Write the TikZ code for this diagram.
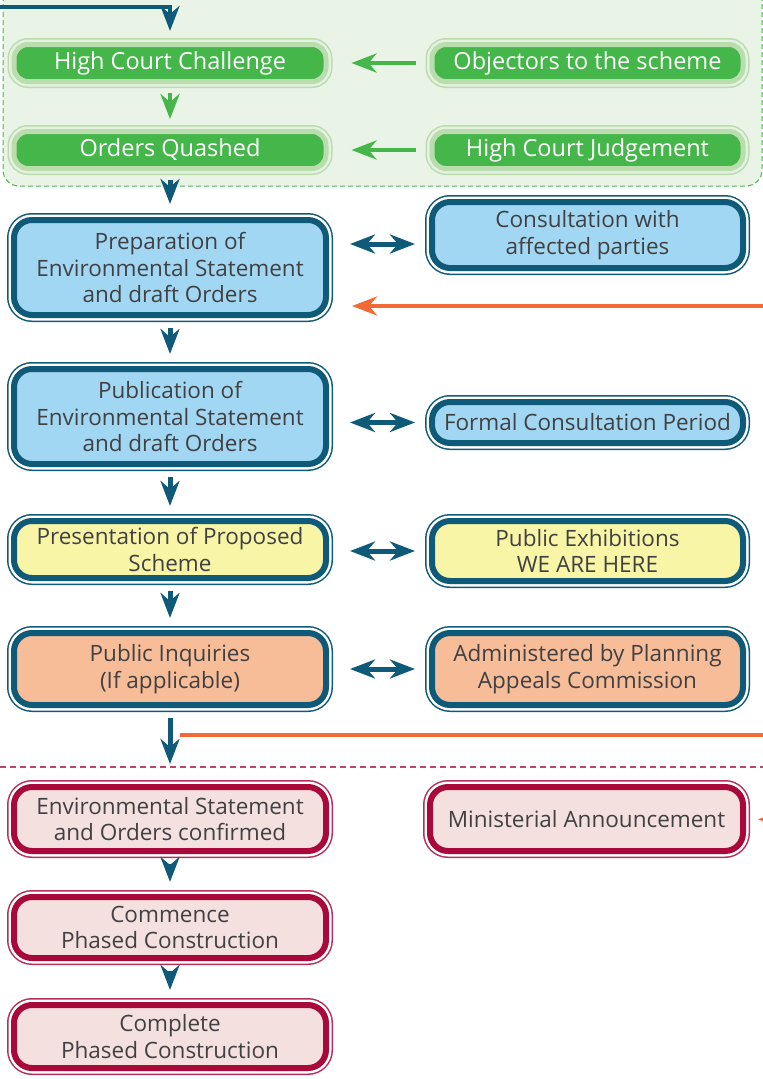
\documentclass[tikz,border=0pt]{standalone}
\usepackage{fontspec}
\setmainfont{Open Sans}
\usepackage{tikz}
\usetikzlibrary{arrows.meta,calc,positioning}
\definecolor{dblue}{HTML}{0E5A78}
\definecolor{bfill}{HTML}{A2D7F3}
\definecolor{yfill}{HTML}{F8F5A6}
\definecolor{ofill}{HTML}{F7BC98}
\definecolor{dred}{HTML}{A8093A}
\definecolor{rfill}{HTML}{F3E0DF}
\definecolor{gfill}{HTML}{45B649}
\definecolor{gband}{HTML}{BADDAE}
\definecolor{ggap}{HTML}{E4F1E0}
\definecolor{gbg}{HTML}{E9F3E6}
\definecolor{gdash}{HTML}{4DB751}
\definecolor{oline}{HTML}{F26A35}
\definecolor{rdash}{HTML}{C0436A}
\definecolor{txt}{HTML}{414042}
\newcommand{\boxfont}{\fontsize{22.5}{26.5}\selectfont}
\tikzstyle{box}=[rounded corners=18pt, align=center, inner sep=0pt, minimum width=312pt, font=\boxfont, text=txt, line width=6pt]
\tikzstyle{bluebox}=[box, fill=bfill, draw=dblue, preaction={draw=dblue, line width=14pt}, preaction={draw=white, line width=11pt}]
\tikzstyle{yelbox}=[bluebox, fill=yfill]
\tikzstyle{orbox}=[bluebox, fill=ofill]
\tikzstyle{redbox}=[box, fill=rfill, draw=dred, preaction={draw=dred!85, line width=14pt}, preaction={draw=white, line width=11pt}]
\tikzstyle{grbox}=[box, rounded corners=14pt, line width=5pt, minimum height=37pt, fill=gfill, draw=gband, text=white, font=\fontsize{23.5}{26.5}\selectfont, preaction={draw=gband, line width=13pt}, preaction={draw=ggap, line width=10pt}]
\tikzstyle{varr}=[draw=dblue, line width=5pt, ->, shorten <=10pt, shorten >=12pt]
\tikzstyle{dbl}=[draw=dblue, line width=5pt, <->, shorten <=21pt, shorten >=14pt]
\tikzstyle{garr}=[draw=gfill, line width=4.5pt, ->]
\tikzstyle{oarr}=[draw=oline, line width=4.5pt, ->]

\begin{document}
\begin{tikzpicture}[x=1pt,y=-1pt,>={Stealth[length=25pt,width=19pt,inset=8pt]}]
\useasboundingbox (0,0) rectangle (763,1079);

% court challenge area
\draw[fill=gbg, draw=gdash, dashed, line width=1pt, dash pattern=on 5pt off 3pt, rounded corners=16pt] (3,-20) -- (3,186) -- (762,186) -- (762,-20);

\node[grbox] (hcc) at (170,63) {High Court Challenge};
\node[grbox] (oq) at (170,150) {Orders Quashed};
\node[grbox, minimum width=311pt] (obj) at (587.5,63) {Objectors to the scheme};
\node[grbox, minimum width=311pt] (hcj) at (587.5,150) {High Court Judgement};

% main column
\node[bluebox, minimum height=95pt] (prep) at (170,267.5) {Preparation of\\Environmental Statement\\and draft Orders};
\node[bluebox, minimum height=95pt] (pub) at (170,416.5) {Publication of\\Environmental Statement\\and draft Orders};
\node[yelbox, minimum height=57pt] (pres) at (170,549.5) {Presentation of Proposed\\Scheme};
\node[orbox, minimum height=72pt] (pi) at (170,669) {Public Inquiries\\(If applicable)};
\node[redbox, minimum height=64pt] (envc) at (170,819) {Environmental Statement\\and Orders confirmed};
\node[redbox, minimum height=61pt] (comm) at (170,927.5) {Commence\\Phased Construction};
\node[redbox, minimum height=63pt] (compl) at (170,1036.5) {Complete\\Phased Construction};

% side column
\node[bluebox, minimum width=311pt, minimum height=66pt] (cons) at (587.5,235) {Consultation with\\affected parties};
\node[bluebox, minimum width=311pt, minimum height=41pt] (formal) at (587.5,422.5) {Formal Consultation Period};
\node[yelbox, minimum width=311pt, minimum height=60pt] (pubex) at (587.5,551) {Public Exhibitions\\WE ARE HERE};
\node[orbox, minimum width=311pt, minimum height=72pt] (admin) at (587.5,669) {Administered by Planning\\Appeals Commission};
\node[redbox, minimum width=313pt, minimum height=64pt] (mini) at (586.5,819) {Ministerial Announcement};

\coordinate (topin) at (0,7);
\coordinate (oin1) at (763,306);
\coordinate (oout) at (180,735);
\coordinate (oin2) at (790,820);
\coordinate (dl) at (0,767);
\coordinate (dr) at (763,767);

% arrows
\draw[varr, line width=4pt, shorten <=0pt, shorten >=11pt] (topin) -| (hcc.north);
\draw[garr, shorten <=9pt, shorten >=10pt] (hcc) -- (oq);
\draw[garr, shorten <=14pt, shorten >=23pt] (obj) -- (hcc);
\draw[garr, shorten <=14pt, shorten >=23pt] (hcj) -- (oq);
\draw[varr, shorten <=9pt, shorten >=13pt] (oq) -- (prep);
\draw[varr] (prep) -- (pub);
\draw[varr] (pub) -- (pres);
\draw[varr] (pres) -- (pi);
\draw[varr, shorten >=20pt] (pi) -- (envc);
\draw[varr] (envc) -- (comm);
\draw[varr] (comm) -- (compl);

\draw[dbl] ($(prep.east |- cons.west)+(0,9)$) -- ($(cons.west)+(0,9)$);
\draw[dbl] (pub.east |- formal.west) -- (formal.west);
\draw[dbl] (pres.east |- pubex.west) -- (pubex.west);
\draw[dbl] (pi.east |- admin.west) -- (admin.west);

\draw[oarr, shorten >=23pt] (oin1) -- (oin1 -| prep.east);
\draw[draw=oline, line width=4.5pt] (oout) -- (oout -| dr);
\draw[oarr, shorten >=12pt] (oin2) -- (mini.east);
\draw[draw=rdash, line width=1.3pt, dash pattern=on 6pt off 4pt] (dl) -- (dr);
\end{tikzpicture}
\end{document}
